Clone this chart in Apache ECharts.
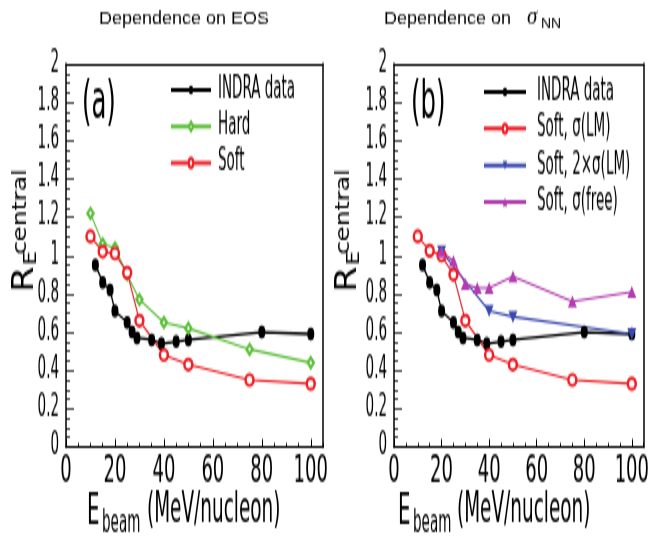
<!DOCTYPE html>
<html><head><meta charset="utf-8">
<script src="https://cdn.jsdelivr.net/npm/echarts@6/dist/echarts.min.js"></script>
<style>
html,body{margin:0;padding:0;background:#fff;width:652px;height:536px;}
#c{width:652px;height:268px;transform:scaleY(2);transform-origin:0 0;}
</style></head><body><div id="c"></div>
<script>
// ---- data ----
const xTickValues = [0, 20, 40, 60, 80, 100];
const indraX = [12, 15, 18, 20, 25, 27, 29, 35, 39, 45, 50, 80, 100];
const indraY = [0.95, 0.86, 0.82, 0.71, 0.65, 0.60, 0.57, 0.56, 0.54, 0.55, 0.56, 0.60, 0.59];
const hardX = [10, 15, 20, 25, 30, 40, 50, 75, 100];
const hardY = [1.22, 1.06, 1.04, 0.90, 0.77, 0.65, 0.62, 0.51, 0.44];
const softX = [10, 15, 20, 25, 30, 40, 50, 75, 100];
const softY = [1.10, 1.02, 1.01, 0.91, 0.66, 0.48, 0.43, 0.35, 0.33];
const softLMX = [10, 15, 20, 25, 30, 40, 50, 75, 100];
const softLMY = [1.10, 1.025, 1.00, 0.90, 0.66, 0.48, 0.43, 0.35, 0.33];
const soft2LMX = [20, 40, 50, 100];
const soft2LMY = [1.02, 0.71, 0.68, 0.59];
const softFreeX = [20, 25, 30, 35, 40, 50, 75, 100];
const softFreeY = [1.02, 0.97, 0.85, 0.83, 0.83, 0.89, 0.76, 0.81];

const S = 2;
const COND = "'DejaVu Sans Condensed','DejaVu Sans',sans-serif";
const REG = "'Liberation Sans',Arial,sans-serif";
const SERIF = "'Liberation Serif','DejaVu Serif',serif";
const zip = (xs, ys) => xs.map((x, i) => [x, ys[i]]);
const Y = v => v / S;

const grids = [
  {left: 66, top: Y(64), width: 257, height: Y(447) - Y(64)},
  {left: 394, top: Y(64), width: 256, height: Y(447) - Y(64)}
];

function mainX(g) {
  return {gridIndex: g, type: 'value', min: 0, max: 105, interval: 5,
    axisLine: {show: true, onZero: false, lineStyle: {color: '#000', width: 1.2}},
    axisTick: {show: true, inside: true, length: 2, lineStyle: {color: '#000', width: 1}},
    axisLabel: {customValues: xTickValues, formatter: v => (v % 20 === 0 && v <= 100) ? String(v) : '',
      color: '#000', fontFamily: COND, fontSize: 20, margin: 2},
    splitLine: {show: false}};
}
function majorX(g) {
  return {gridIndex: g, type: 'value', min: 0, max: 105, interval: 5, position: 'bottom',
    axisLine: {show: false},
    axisTick: {show: true, inside: true, length: 4, customValues: xTickValues, lineStyle: {color: '#000', width: 1}},
    axisLabel: {show: false}, splitLine: {show: false}};
}
function frameX(g) {
  return {gridIndex: g, type: 'value', min: 0, max: 105, position: 'top',
    axisLine: {show: true, onZero: false, lineStyle: {color: '#000', width: 1}},
    axisTick: {show: false}, axisLabel: {show: false}, splitLine: {show: false}};
}
function mainY(g) {
  return {gridIndex: g, type: 'value', min: 0, max: 2, interval: 0.2,
    axisLine: {show: true, onZero: false, lineStyle: {color: '#000', width: 1.5}},
    axisTick: {show: true, inside: true, length: 8, lineStyle: {color: '#000', width: 0.7}},
    minorTick: {show: true, splitNumber: 4, length: 4, lineStyle: {color: '#000', width: 0.7}},
    axisLabel: {color: '#000', fontFamily: COND, fontSize: 15, margin: 7},
    splitLine: {show: false}};
}
function frameY(g) {
  return {gridIndex: g, type: 'value', min: 0, max: 2, position: 'right',
    axisLine: {show: true, onZero: false, lineStyle: {color: '#000', width: 1.5}},
    axisTick: {show: false}, axisLabel: {show: false}, splitLine: {show: false}};
}

function lineSeries(name, gi, xs, ys, color, symbol, size, extra) {
  return Object.assign({
    name: name, type: 'line', xAxisIndex: gi, yAxisIndex: gi,
    data: zip(xs, ys), color: color, symbol: symbol, symbolSize: size,
    lineStyle: {color: color, width: 1.1}, itemStyle: {color: color, borderWidth: 1.1},
    emphasis: {disabled: true}, animation: false, clip: false
  }, extra || {});
}

function txt(x, yRef, text, font, size, extra) {
  extra = extra || {};
  return {type: 'text', x: x, y: Y(yRef),
    rotation: extra.rotation || 0, scaleX: extra.scaleX || 1, scaleY: extra.scaleY || 1,
    style: Object.assign({text: text, font: (extra.fontStyle || '') + ' ' + size + 'px ' + font, fill: '#000',
      textAlign: 'left', textVerticalAlign: 'middle'}, extra.style || {})};
}

const legendTextL = {fontFamily: COND, fontSize: 15, color: '#000', lineHeight: 16, padding: [0, 0, 0, 2]};
const legendTextR = {fontFamily: COND, fontSize: 15, color: '#000', lineHeight: 16, padding: [0, 0, 0, 6]};
const rot = {rotation: Math.PI / 2, scaleX: 0.68, style: {textAlign: 'center'}};

const option = {
  backgroundColor: '#fff',
  animation: false,
  grid: grids,
  xAxis: [mainX(0), mainX(1), majorX(0), majorX(1), frameX(0), frameX(1)],
  yAxis: [mainY(0), mainY(1), frameY(0), frameY(1)],
  legend: [
    {orient: 'vertical', left: 165, top: 32, itemWidth: 40, itemHeight: 5.5, itemGap: Y(36.5) - 16,
      selectedMode: false, textStyle: legendTextL, data: ['INDRA data', 'Hard', 'Soft']},
    {orient: 'vertical', left: 478, top: 33, itemWidth: 42, itemHeight: 5.5, itemGap: Y(36.7) - 16,
      selectedMode: false, textStyle: legendTextR,
      data: ['INDRA data', 'Soft, σ(LM)', 'Soft, 2×σ(LM)', 'Soft, σ(free)']}
  ],
  series: [
    lineSeries('INDRA data', 0, indraX, indraY, '#000', 'circle', [7, 6.5], {lineStyle: {color: '#000', width: 1.3}}),
    lineSeries('Hard', 0, hardX, hardY, '#5cbf3a', 'emptyDiamond', [6, 5]),
    lineSeries('Soft', 0, softX, softY, '#ee1d25', 'emptyCircle', [8, 5.5]),
    lineSeries('INDRA data', 1, indraX, indraY, '#000', 'circle', [7, 6.5], {lineStyle: {color: '#000', width: 1.3}}),
    lineSeries('Soft, σ(LM)', 1, softLMX, softLMY, '#ee1d25', 'emptyCircle', [8, 5.5]),
    lineSeries('Soft, 2×σ(LM)', 1, soft2LMX, soft2LMY, '#3a4aae', 'triangle', [9, 6], {symbolRotate: 180}),
    lineSeries('Soft, σ(free)', 1, softFreeX, softFreeY, '#b23cb0', 'triangle', [9, 6])
  ],
  graphic: [
    txt(99, 18, 'Dependence on EOS', REG, 18, {scaleY: 0.55}),
    txt(384, 18, 'Dependence on', REG, 18, {scaleY: 0.55}),
    txt(527, 18, 'σ', SERIF, 21, {scaleY: 0.55, fontStyle: 'italic'}),
    txt(541, 24, 'NN', REG, 14, {scaleY: 0.55}),
    txt(82, 104, '(a)', COND, 27),
    txt(411, 104, '(b)', COND, 27),
    // x axis titles
    txt(87, 512, 'E', COND, 22),
    txt(102, 524, 'beam', COND, 15),
    txt(147, 512, '(MeV/nucleon)', COND, 20.5),
    txt(398, 512, 'E', COND, 22),
    txt(413, 524, 'beam', COND, 15),
    txt(457, 512, '(MeV/nucleon)', COND, 20.5),
    // y axis titles (rotated)
    txt(25, 279, 'R', COND, 30, rot),
    txt(31, 258, 'E', COND, 18, rot),
    txt(21, 212, 'central', COND, 20, rot),
    txt(348, 279, 'R', COND, 30, rot),
    txt(354, 258, 'E', COND, 18, rot),
    txt(344, 212, 'central', COND, 20, rot)
  ]
};

const chart = echarts.init(document.getElementById('c'), null, {renderer: 'canvas'});
chart.setOption(option);
</script></body></html>
